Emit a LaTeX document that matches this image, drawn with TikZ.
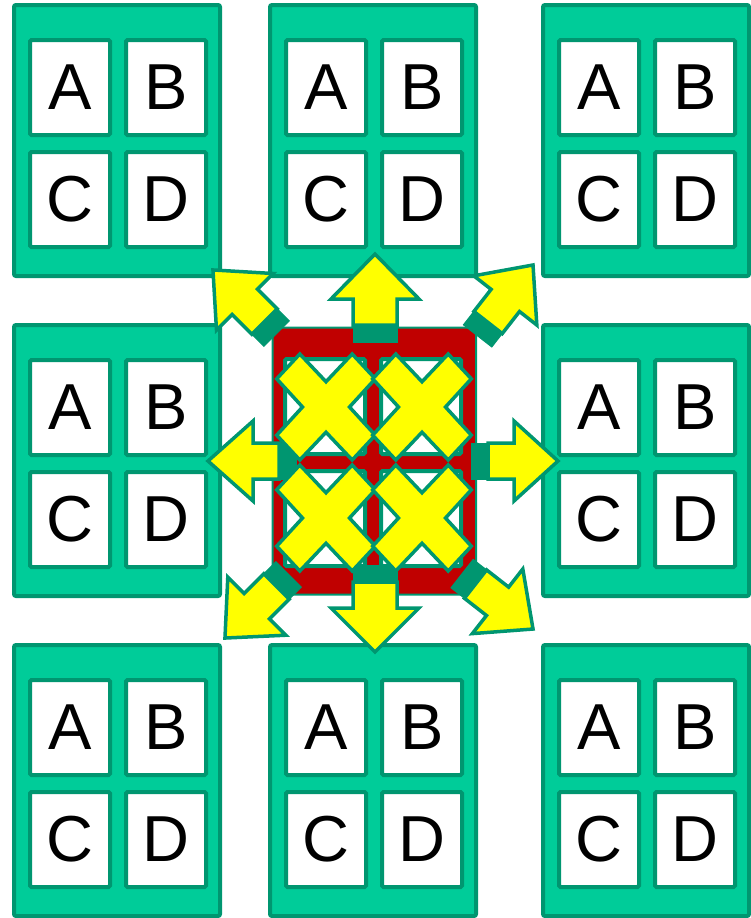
\documentclass[tikz,border=0pt]{standalone}
\usepackage{fontspec}
\setmainfont{Liberation Sans}
\definecolor{tealp}{RGB}{0,204,153}
\definecolor{dkg}{RGB}{0,150,112}
\definecolor{redp}{RGB}{192,0,0}
\definecolor{yel}{RGB}{255,255,0}
\tikzset{
 panelbox/.style={fill=tealp,draw=dkg,line width=4pt,rounded corners=2pt},
 cellbox/.style={fill=white,draw=dkg,line width=4pt,rounded corners=1.5pt,minimum width=80pt,minimum height=95pt,inner sep=0pt,font=\fontsize{65}{65}\selectfont},
 redpanel/.style={fill=redp,draw=dkg,line width=2pt,rounded corners=6pt},
 arrblock/.style={fill=dkg,draw=dkg,line width=1pt},
 arrbody/.style={fill=yel,draw=dkg,line width=3.5pt,line join=miter},
 xshape/.style={fill=yel,draw=dkg,line width=3.5pt,line join=miter}
}
\newcommand\mypanel[3]{%
 \draw[panelbox] (#1+2,#2+2) rectangle (#1+208,#2+273);
 \node[cellbox] (#3a) at (#1+58,#2+84.5) {A};
 \node[cellbox] (#3b) at (#1+154,#2+84.5) {B};
 \node[cellbox] (#3c) at (#1+58,#2+196.5) {C};
 \node[cellbox] (#3d) at (#1+154,#2+196.5) {D};
}
\newcommand\blkarrow[8]{%
 \begin{scope}[shift={(#1,#2)},rotate=#3]
  \filldraw[arrblock] (0,-#7) rectangle (#4,#7);
  \draw[arrbody] (#4,-#7) -- ({#4+#5},-#7) -- ({#4+#5},-#8) -- ({#4+#5+#6},0) -- ({#4+#5},#8) -- ({#4+#5},#7) -- (#4,#7) -- cycle;
 \end{scope}}
\newcommand\xmark[2]{%
 \begin{scope}[shift={(#1,#2)},yscale=1.075]
  \draw[xshape] (0,-23.5) -- (26.2,-49.3) -- (49.3,-26.2) -- (23.5,0) -- (49.3,26.2) -- (26.2,49.3) -- (0,23.5) -- (-26.2,49.3) -- (-49.3,26.2) -- (-23.5,0) -- (-49.3,-26.2) -- (-26.2,-49.3) -- cycle;
 \end{scope}}
\begin{document}
\begin{tikzpicture}[x=1pt,y=-1pt]
\useasboundingbox (0,0) rectangle (750,918);
% panels
\mypanel{12}{3}{pa}
\mypanel{268}{3}{pb}
\mypanel{541}{3}{pc}
\mypanel{12}{323}{pd}
\mypanel{541}{323}{pf}
\mypanel{12}{643}{pg}
\mypanel{268}{643}{ph}
\mypanel{541}{643}{pi}
% centre panel
\draw[redpanel] (272.5,327.5) rectangle (476,594.5);
\node[cellbox] (ca) at (325,406.5) {};
\node[cellbox] (cb) at (421,406.5) {};
\node[cellbox] (cc) at (325,518.5) {};
\node[cellbox] (cd) at (421,518.5) {};
% arrows
\blkarrow{375}{342}{90}{17}{26}{45}{22}{44}
\blkarrow{375}{565}{-90}{17}{26}{44}{22}{44}
\blkarrow{296}{461}{180}{17}{26}{45}{18}{40}
\blkarrow{471}{461}{0}{17}{26}{44}{18}{40}
\blkarrow{276.6}{333.6}{135}{17}{28}{45}{18}{40}
\blkarrow{477.6}{335.9}{52}{17}{28}{45}{18}{40}
\blkarrow{288.6}{574.4}{-135}{17}{28}{45}{18}{41}
\blkarrow{462.1}{573.6}{-38}{17}{28}{45}{18}{41}
% crosses
\xmark{326}{407}
\xmark{422}{407}
\xmark{326}{518}
\xmark{422}{518}
\end{tikzpicture}
\end{document}
